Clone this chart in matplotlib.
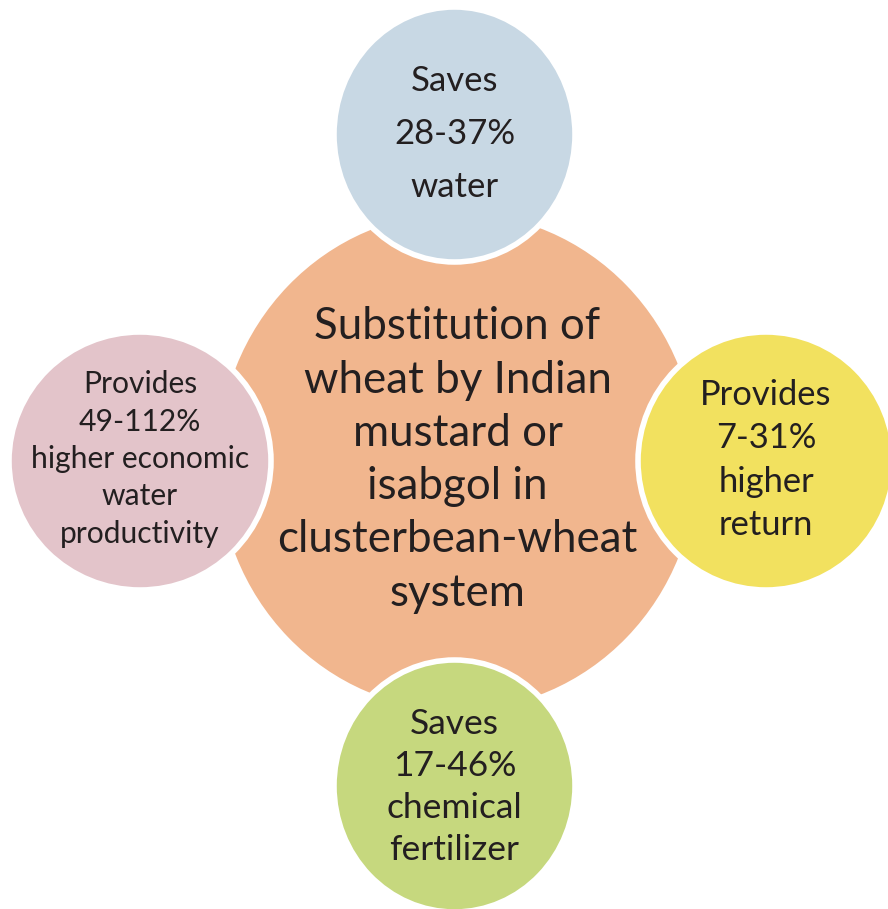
import matplotlib
matplotlib.use("Agg")
import matplotlib.pyplot as plt
from matplotlib.patches import Ellipse

plt.rcParams['font.family'] = ['Lato', 'DejaVu Sans']

# Content
center_label = "Substitution of\nwheat by Indian\nmustard or\nisabgol in\nclusterbean-wheat\nsystem"
outer_labels = [
    "Saves\n28-37%\nwater",
    "Provides\n7-31%\nhigher\nreturn",
    "Saves\n17-46%\nchemical\nfertilizer",
    "Provides\n49-112%\nhigher economic\nwater\nproductivity",
]

# Layout (pixel coordinates)
center_geom = dict(xy=(457.5, 461.5), w=479, h=497, color="#F1B68E")
outer_geom = [
    dict(xy=(454.5, 134.5), w=241, h=255, color="#C8D8E4", fs=25, ls=1.81, ty=134),
    dict(xy=(766, 461), w=256, h=258, color="#F2E15F", fs=24.8, ls=1.43, ty=460),
    dict(xy=(454.5, 786), w=241, h=252, color="#C6D87E", fs=25.5, ls=1.39, ty=787),
    dict(xy=(140, 461), w=262, h=258, color="#E3C4CA", fs=21.6, ls=1.41, ty=459),
]
text_color = "#231F20"

fig = plt.figure(figsize=(8.88, 9.09), dpi=100)
ax = fig.add_axes([0, 0, 1, 1])
ax.set_xlim(0, 888)
ax.set_ylim(909, 0)
ax.axis("off")

ax.add_patch(Ellipse(center_geom["xy"], center_geom["w"], center_geom["h"],
                     facecolor=center_geom["color"], edgecolor="none", zorder=1))
ax.text(center_geom["xy"][0], 460, center_label, ha="center", va="center",
        fontsize=31.6, color=text_color, linespacing=1.37, zorder=5)

for g, lab in zip(outer_geom, outer_labels):
    ax.add_patch(Ellipse(g["xy"], g["w"], g["h"], facecolor=g["color"],
                         edgecolor="white", linewidth=4, zorder=2))
    ax.text(g["xy"][0], g["ty"], lab, ha="center", va="center",
            fontsize=g["fs"], color=text_color, linespacing=g["ls"], zorder=5)

fig.savefig("out.png", dpi=100)
